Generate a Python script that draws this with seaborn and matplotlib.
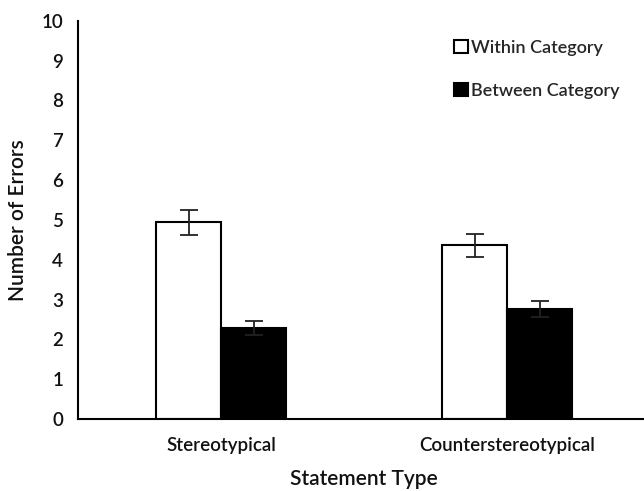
import matplotlib
matplotlib.use("Agg")
import matplotlib.pyplot as plt
import seaborn as sns
import pandas as pd

# data
statement_types = ["Stereotypical", "Counterstereotypical"]
conditions = ["Within Category", "Between Category"]
within_errors = [4.94, 4.36]
between_errors = [2.28, 2.77]
within_se = [0.32, 0.285]
between_se = [0.18, 0.20]

df = pd.DataFrame({
    "Statement Type": statement_types * 2,
    "Condition": [conditions[0]] * 2 + [conditions[1]] * 2,
    "Errors": within_errors + between_errors,
})

sns.set_style("white")
plt.rcParams["font.family"] = ["Lato", "DejaVu Sans"]
plt.rcParams["font.weight"] = "semibold"

fig = plt.figure(figsize=(6.44, 4.91), dpi=100)
ax = fig.add_axes([0.1216, 0.1466, 0.888, 0.811])

sns.barplot(data=df, x="Statement Type", y="Errors", hue="Condition",
            palette=["white", "black"], edgecolor="black", linewidth=1.5,
            width=0.455, gap=0, errorbar=None, ax=ax)

# error bars on top of each bar
for cont, se in zip(ax.containers, [within_se, between_se]):
    xs = [p.get_x() + p.get_width() / 2 for p in cont]
    ys = [p.get_height() for p in cont]
    ax.errorbar(xs, ys, yerr=se, fmt="none", ecolor="#222222",
                elinewidth=1.3, capsize=6.5, capthick=1.3, zorder=5)

ax.set_ylim(0, 10)
ax.set_xlim(-0.5, 1.5)
ax.set_yticks(range(0, 11))
ax.tick_params(axis="both", length=0, labelsize=13.5, colors="#111111")
ax.tick_params(axis="y", pad=11)
ax.tick_params(axis="x", pad=13)

ax.set_ylabel("Number of Errors", fontsize=15, color="#111111", fontweight="semibold")
ax.set_xlabel("Statement Type", fontsize=15, color="#111111", fontweight="semibold")
ax.yaxis.set_label_coords(-0.088, 0.5)
ax.xaxis.set_label_coords(0.5, -0.125)

sns.despine(ax=ax)
for s in ["left", "bottom"]:
    ax.spines[s].set_color("black")
    ax.spines[s].set_linewidth(1.5)

handles, labels = ax.get_legend_handles_labels()
ax.legend(handles, labels, loc="upper left", bbox_to_anchor=(0.705, 0.919),
          bbox_transform=fig.transFigure, frameon=False, fontsize=13,
          handlelength=0.75, handleheight=0.75, handletextpad=0.2,
          labelspacing=1.5, borderpad=0, borderaxespad=0)

fig.savefig("out.png", dpi=100)
